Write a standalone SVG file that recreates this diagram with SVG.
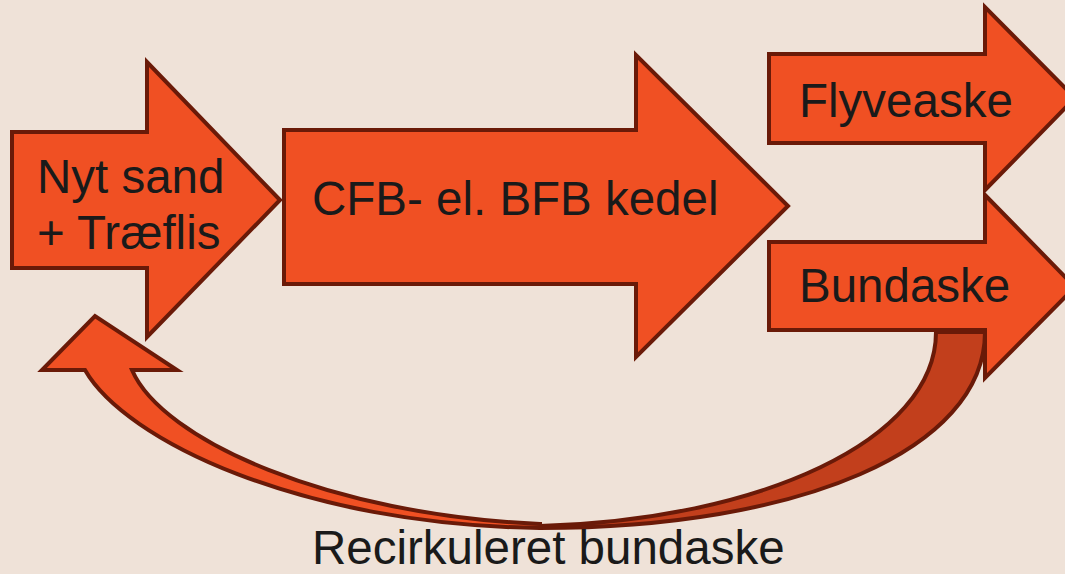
<svg xmlns="http://www.w3.org/2000/svg" width="1065" height="574" viewBox="0 0 1065 574">
<style>
.arr{fill:#F05023;stroke:#6A1A08;stroke-width:4;stroke-linejoin:miter}
.dark{fill:#C23F1C;stroke:#6A1A08;stroke-width:4;stroke-linejoin:round}
.t{font-family:"Liberation Sans",Arial,sans-serif;font-size:47.5px;fill:#1A1A1A}
</style>
<rect width="1065" height="574" fill="#EFE2D8"/>
<g id="connectors">
<path class="dark" d="M540,528 C800,528 985,450 985,332 L936,332 C936,440 760,520 540,526 Z"/>
<path class="arr" d="M85,370 L42,370 L95,316 L177,370 L132,370 C162,440 330,515 540,524 L540,528 C300,525 125,440 85,370 Z"/>
</g>
<g id="nyt-sand">
<polygon class="arr" points="12,132 147,132 147,62 280,200 147,337 147,268 12,268"/>
<text class="t" x="37" y="193">Nyt sand</text>
<text class="t" x="37" y="249">+ Træflis</text>
</g>
<g id="kedel">
<polygon class="arr" points="284,130 636,130 636,55 788,206 636,357 636,284 284,284"/>
<text class="t" x="312" y="215">CFB- el. BFB kedel</text>
</g>
<g id="flyveaske">
<polygon class="arr" points="769,54 985,54 985,7 1075,98 985,190 985,143 769,143"/>
<text class="t" x="799" y="117">Flyveaske</text>
</g>
<g id="bundaske">
<polygon class="arr" points="769,242 985,242 985,195 1075,287 985,378 985,330 769,330"/>
<text class="t" x="799" y="302">Bundaske</text>
</g>
<text class="t" x="312" y="564">Recirkuleret bundaske</text>
</svg>
